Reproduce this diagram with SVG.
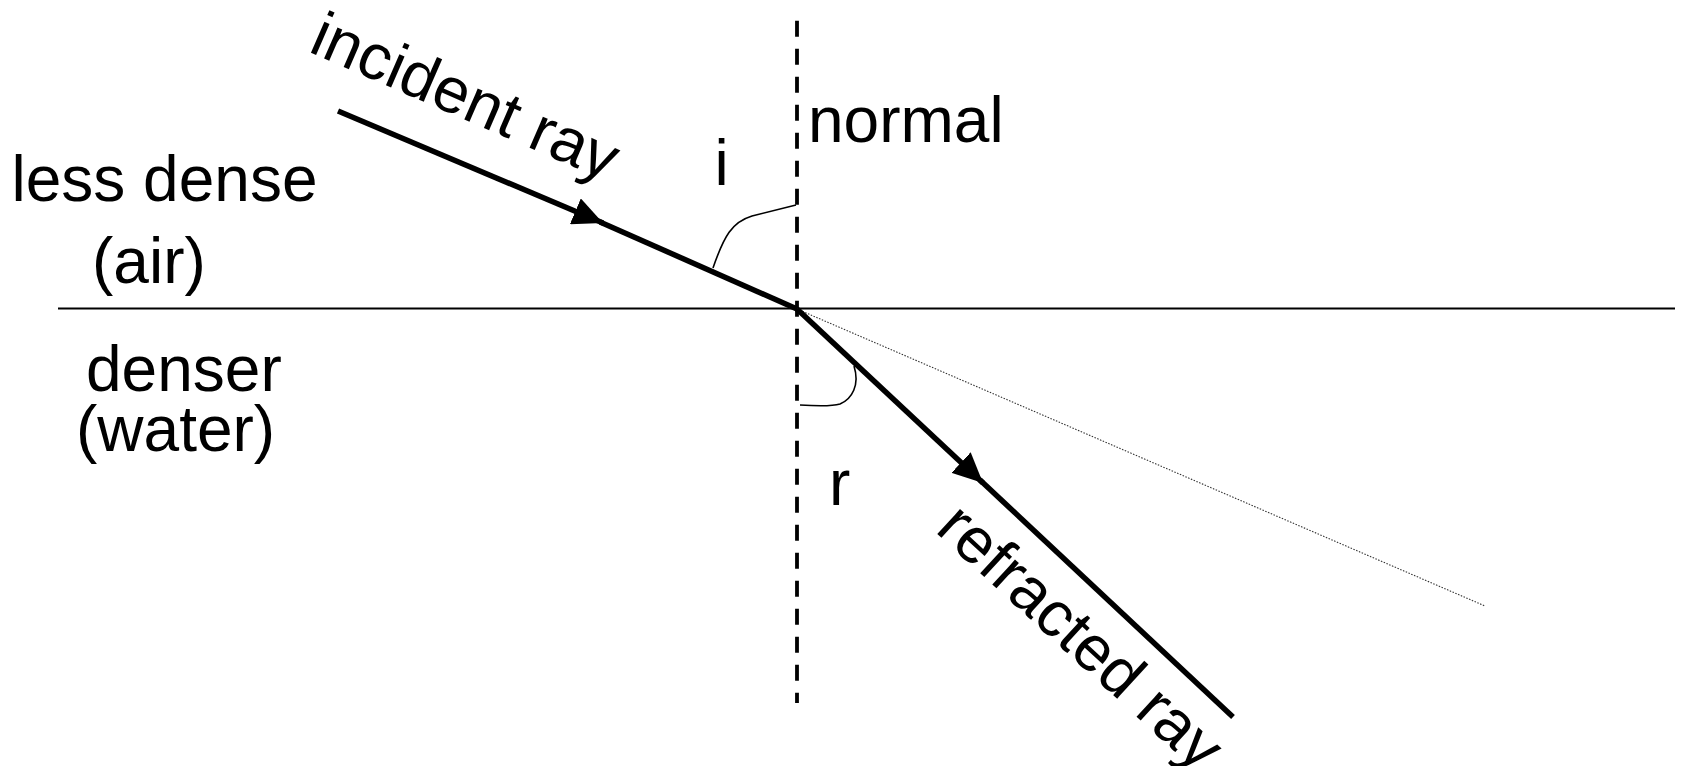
<svg xmlns="http://www.w3.org/2000/svg" width="1681" height="766" viewBox="0 0 1681 766">
<defs>
<style>
.lbl{font-family:"Liberation Sans",Arial,sans-serif;font-size:64px;fill:#000}
.ray{stroke:#000;stroke-width:5.5;fill:none;stroke-linecap:butt}
.arc{stroke:#000;stroke-width:1.6;fill:none}
</style>
<marker id="ah" viewBox="0 0 30 28" refX="30" refY="14" markerWidth="30" markerHeight="28" markerUnits="userSpaceOnUse" orient="auto">
<path d="M0,0 L30,14 L0,28 z" fill="#000"/>
</marker>
</defs>
<rect width="1681" height="766" fill="#fff"/>
<g id="connectors">
<line id="surface" x1="58" y1="308.5" x2="1675" y2="308.5" stroke="#000" stroke-width="1.8"/>
<line id="normal-line" x1="797" y1="20.7" x2="797" y2="703" stroke="#000" stroke-width="3.8" stroke-dasharray="16 12"/>
<line id="extension" x1="797" y1="309" x2="1485" y2="606" stroke="#333" stroke-width="1.1" stroke-dasharray="1.5 1.5"/>
<path class="ray" d="M338,111 L603,223" marker-end="url(#ah)"/>
<path class="ray" d="M600,222 L797,309"/>
<path class="ray" d="M797,309 L983,483" marker-end="url(#ah)"/>
<path class="ray" d="M980,480 L1233,717"/>
<path id="arc-i" class="arc" d="M713,268 C724,236 732,222 752,216 L796,205"/>
<path id="arc-r" class="arc" d="M800,405 C815,406 830,407 840,404 C852,399 860,385 854,366"/>
</g>
<g id="label-less-dense"><text class="lbl" x="11.5" y="201">less dense</text></g>
<g id="label-air"><text class="lbl" x="92" y="283">(air)</text></g>
<g id="label-denser"><text class="lbl" x="86" y="391">denser</text></g>
<g id="label-water"><text class="lbl" x="76" y="451">(water)</text></g>
<g id="label-normal"><text class="lbl" x="808" y="142">normal</text></g>
<g id="label-i"><text class="lbl" x="714.5" y="185">i</text></g>
<g id="label-r"><text class="lbl" x="829" y="505">r</text></g>
<g id="label-incident"><text class="lbl" transform="translate(307,51) rotate(23.5)">incident ray</text></g>
<g id="label-refracted"><text class="lbl" transform="translate(934,531) rotate(42.5)">refracted ray</text></g>
</svg>
